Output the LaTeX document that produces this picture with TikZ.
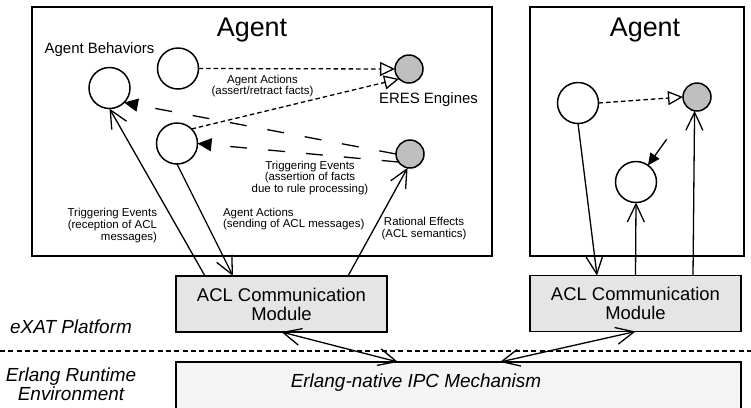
\documentclass[tikz,border=0pt]{standalone}
\usepackage{fontspec}
\setmainfont{Liberation Sans}
\usetikzlibrary{arrows.meta}

\begin{document}
\begin{tikzpicture}[x=1bp,y=-1bp, line width=1.3bp,
  every node/.style={inner sep=0pt, outer sep=0pt},
  frame/.style={draw, line width=1.5bp, rectangle},
  behav/.style={draw, circle, line width=1.5bp, minimum size=41bp, fill=white},
  engine/.style={draw, circle, line width=1.5bp, minimum size=28bp, fill=black!25},
  aclbox/.style={frame, fill=black!10, minimum width=211bp, minimum height=56bp,
    align=center, font=\fontsize{18.5}{19}\selectfont},
  title/.style={font=\fontsize{27}{27}\selectfont, anchor=base},
  lbl/.style={font=\fontsize{11.5}{11.8}\selectfont},
  biglbl/.style={font=\fontsize{15}{15}\selectfont},
  layer/.style={font=\fontsize{19}{17}\selectfont\itshape, align=center},
  assert/.style={dash pattern=on 4.5bp off 3bp,
    -{Triangle[length=15bp,width=14bp,fill=white]}},
  trigger/.style={dash pattern=on 17bp off 21bp,
    -{Triangle[length=14bp,width=13bp]}},
  barb/.tip={Straight Barb[length=18bp,width=17bp]},
  msg/.style={-barb},
  ipc/.style={barb-barb},
]
\useasboundingbox (0,0) rectangle (751,407);
\clip (0,0) rectangle (751,407);

% agent frames and titles
\node[frame, minimum width=460bp, minimum height=249bp] (agentL) at (262,131.5) {};
\node[frame, minimum width=214bp, minimum height=249bp] (agentR) at (637,131.5) {};
\node[title] (titleL) at (252,36) {Agent};
\node[title] (titleR) at (645,36) {Agent};

% behaviours and rule engines
\node[behav] (A) at (109.5,88) {};
\node[behav] (B) at (178,68.5) {};
\node[behav] (C) at (177,143.5) {};
\node[engine] (E1) at (409,69) {};
\node[engine] (E2) at (410,154) {};
\node[behav] (R1) at (578,103) {};
\node[engine] (R2) at (697,97) {};
\node[behav] (R3) at (636,182) {};

% communication modules and runtime
\node[aclbox] (acl1) at (281.5,304) {ACL Communication\\Module};
\node[aclbox] (acl2) at (635.5,303.5) {ACL Communication\\Module};
\node[frame, fill=black!4, minimum width=565bp, minimum height=62bp, anchor=north west] (erl) at (176,362) {};
\node[font=\fontsize{19}{19}\selectfont\itshape] (ipctext) at (416,383) {Erlang-native IPC Mechanism};

% layer separator
\coordinate (sepL) at (0,351);
\coordinate (sepR) at (751,351);
\draw[dash pattern=on 5bp off 3.3bp] (sepL) -- (sepR);
\node[layer] (exat) at (71,327) {eXAT Platform};
\node[layer] (erts) at (71,384.5) {Erlang Runtime\\Environment};

% labels
\node[biglbl] (behavlbl) at (99.5,50) {Agent Behaviors};
\node[biglbl] (ereslbl) at (428.5,100) {ERES Engines};
\node[lbl, align=center] (l1) at (262.5,86) {Agent Actions\\(assert/retract facts)};
\node[lbl, align=center] (l2) at (310,178) {Triggering Events\\(assertion of facts\\due to rule processing)};
\node[lbl, align=right, anchor=east] (l3) at (157,225.5) {Triggering Events\\(reception of ACL\\messages)};
\node[lbl, align=left, anchor=west] (l4) at (223,219) {Agent Actions\\(sending of ACL messages)};
\node[lbl, align=center] (l5) at (424,228.5) {Rational Effects\\(ACL semantics)};

% connectors, left agent
\draw[assert] (B.east) -- (E1.west);
\draw[assert] (C.north east) -- (E1.south west);
\draw[trigger] (E2.west) -- (A.south east);
\draw[trigger] (E2.215) -- (C.east);
\draw[msg] ([xshift=29bp]acl1.north west) -- (A.south);
\draw[msg] (C.south) -- ([xshift=57bp]acl1.north west);
\draw[msg] ([xshift=172bp]acl1.north west) -- (E2.-100);
\draw[ipc] (acl1.south) -- ([xshift=222bp]erl.north west);

% connectors, right agent
\draw[assert] (R1.east) -- (R2.west);
\draw[msg] (R1.south) -- ([xshift=67bp]acl2.north west);
\draw[msg] (acl2.north) -- (R3.south);
\draw[msg] ([xshift=163bp]acl2.north west) -- (R2.-100);
\draw[-{Triangle[length=12bp,width=11bp]}, shorten <=38bp] (R2) -- (R3);
\draw[ipc] (acl2.south) -- ([xshift=324bp]erl.north west);
\end{tikzpicture}
\end{document}
